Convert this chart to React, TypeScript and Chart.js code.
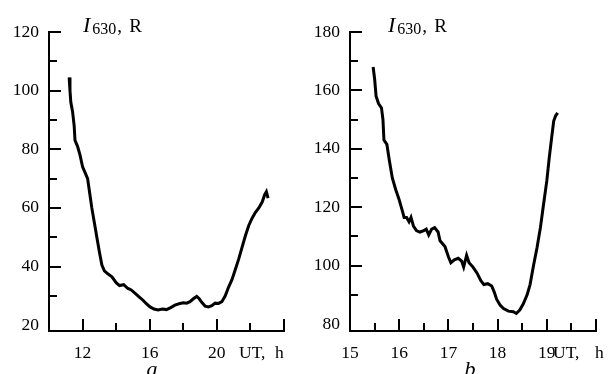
import React, { useEffect, useRef } from 'react';
import { Chart, registerables } from 'chart.js';

Chart.register(...registerables);

// ---------- Panel a ----------
const hoursA = [
  11.2, 11.25, 11.3, 11.4, 11.5, 11.55, 11.7, 11.85, 12.0, 12.15, 12.3, 12.4, 12.55, 12.7, 12.85,
  13.0, 13.15, 13.3, 13.5, 13.75, 14.0, 14.2, 14.45, 14.7, 14.9, 15.2, 15.4, 15.6, 15.8, 16.0,
  16.25, 16.5, 16.75, 17.0, 17.25, 17.5, 17.75, 18.0, 18.2, 18.4, 18.6, 18.8, 18.95, 19.1, 19.3,
  19.5, 19.7, 19.9, 20.1, 20.3, 20.5, 20.7, 20.9, 21.1, 21.3, 21.5, 21.7, 21.9, 22.1, 22.3,
  22.5, 22.7, 22.85, 22.95, 23.05,
];
const intensityA = [
  104.5, 100, 96, 93, 88, 83, 81, 78, 74, 72, 70, 66, 60, 55, 50,
  45, 40.5, 38.5, 37.5, 36.5, 34.5, 33.5, 33.8, 32.5, 32, 30.5, 29.5, 28.5, 27.3, 26.3,
  25.5, 25.2, 25.5, 25.3, 26, 26.8, 27.3, 27.6, 27.5, 28, 29, 29.8, 29, 27.8, 26.5,
  26.2, 26.6, 27.5, 27.4, 28, 30, 33, 35.5, 39, 42.5, 46.5, 50.5, 54, 56.5, 58.5,
  60, 62, 64.5, 65.5, 63.3,
];
const xRangeA = [10, 24];
const yRangeA = [18, 120];
const xMajorA = [12, 16, 20, 24];
const xMinorA = [14, 18, 22];
const xLabelsA = [12, 16, 20];
const yMajorA = [40, 60, 80, 100, 120];
const yMinorA = [30, 50, 70, 90, 110];
const yLabelsA = [20, 40, 60, 80, 100, 120];

// ---------- Panel b ----------
const hoursB = [
  15.47, 15.5, 15.53, 15.58, 15.64, 15.67, 15.69, 15.75, 15.8, 15.86, 15.93, 16.0, 16.06, 16.1,
  16.15, 16.2, 16.24, 16.29, 16.35, 16.42, 16.5, 16.55, 16.6, 16.66, 16.72, 16.79, 16.83, 16.93,
  17.0, 17.05, 17.12, 17.2, 17.27, 17.31, 17.37, 17.42, 17.5, 17.58, 17.66, 17.72, 17.8, 17.88,
  17.93, 17.98, 18.05, 18.12, 18.22, 18.32, 18.38, 18.45, 18.52, 18.6, 18.66, 18.73, 18.8, 18.87,
  18.93, 19.0, 19.05, 19.1, 19.14, 19.18, 19.22,
];
const intensityB = [
  168, 164, 158, 155.5, 154, 150, 143, 141.5, 136, 130, 126, 122.5, 119, 116.5,
  116.5, 115, 116.5, 113.5, 112, 111.5, 112, 112.5, 110.5, 112.5, 113, 111.5, 108.5, 106.5,
  103, 101, 102, 102.5, 101.5, 99.5, 103.5, 101, 99.5, 97.5, 94.8, 93.5, 93.8, 93,
  91, 88.5, 86.5, 85.3, 84.4, 84.2, 83.6, 84.8, 86.8, 90, 93.5, 100, 106, 113,
  120.5, 129, 137, 144, 149.5, 151.3, 152.3,
];
const xRangeB = [15, 20];
const yRangeB = [77.6, 180];
const xMajorB = [16, 17, 18, 19, 20];
const xMinorB = [15.5, 16.5, 17.5, 18.5, 19.5];
const xLabelsB = [15, 16, 17, 18, 19];
const yMajorB = [100, 120, 140, 160, 180];
const yMinorB = [90, 110, 130, 150, 170];
const yLabelsB = [80, 100, 120, 140, 160, 180];

const SERIF = "'Liberation Serif', 'DejaVu Serif', serif";

const decorPlugin = {
  id: 'decor',
  afterDraw(chart: any, _args: any, opts: any) {
    const { ctx, chartArea } = chart;
    const xs = chart.scales.x;
    const ys = chart.scales.y;
    ctx.save();
    ctx.strokeStyle = '#000';
    ctx.lineWidth = 2;
    ctx.beginPath();
    const bottom = chartArea.bottom;
    const left = chartArea.left;
    const tick = (vals: number[], len: number, horiz: boolean) => {
      for (const v of vals) {
        if (horiz) {
          const px = Math.round(xs.getPixelForValue(v));
          ctx.moveTo(px, bottom);
          ctx.lineTo(px, bottom - len);
        } else {
          const py = Math.round(ys.getPixelForValue(v));
          ctx.moveTo(left, py);
          ctx.lineTo(left + len, py);
        }
      }
    };
    tick(opts.xMajor, 12, true);
    tick(opts.xMinor, 8, true);
    tick(opts.yMajor, 12, false);
    tick(opts.yMinor, 8, false);
    ctx.stroke();

    ctx.fillStyle = '#000';
    ctx.textBaseline = 'alphabetic';
    ctx.textAlign = 'left';
    // title I_630, R
    let tx = left + opts.titleDx;
    const ty = 32;
    ctx.font = `italic 22px ${SERIF}`;
    ctx.fillText('I', tx, ty);
    tx += ctx.measureText('I').width + 2;
    ctx.font = `16px ${SERIF}`;
    ctx.fillText('630', tx, ty + 2);
    tx += ctx.measureText('630').width + 1;
    ctx.font = `19px ${SERIF}`;
    ctx.fillText(',', tx, ty);
    ctx.fillText('R', tx + 12, ty);

    // axis unit label
    ctx.font = `17.5px ${SERIF}`;
    ctx.textBaseline = 'middle';
    const uy = bottom + 22;
    const ux = left + opts.unitDx;
    ctx.fillText('UT,', ux, uy);
    ctx.fillText('h', ux + opts.hDx, uy);

    // panel letter
    ctx.font = `italic 22px ${SERIF}`;
    ctx.textAlign = 'center';
    ctx.textBaseline = 'alphabetic';
    ctx.fillText(opts.letter, left + opts.letterDx, 376);
    ctx.restore();
  },
};

function makeConfig(p: any) {
  return {
    type: 'line',
    data: {
      datasets: [
        {
          data: p.hours.map((h: number, i: number) => ({ x: h, y: p.values[i] })),
          borderColor: '#000',
          borderWidth: 3,
          pointRadius: 0,
          tension: 0,
          fill: false,
        },
      ],
    },
    plugins: [decorPlugin],
    options: {
      responsive: false,
      animation: false,
      devicePixelRatio: 1,
      layout: { padding: { left: 0, right: p.padRight, top: 32, bottom: 0 } },
      plugins: {
        legend: { display: false },
        tooltip: { enabled: false },
        decor: p.decor,
      },
      scales: {
        x: {
          type: 'linear',
          min: p.xRange[0],
          max: p.xRange[1],
          afterBuildTicks: (scale: any) => {
            const vals = [p.xRange[0], ...p.xMinor, ...p.xMajor, ...p.xLabels]
              .filter((v: number, i: number, a: number[]) => a.indexOf(v) === i)
              .sort((a: number, b: number) => a - b);
            scale.ticks = vals.map((value: number) => ({ value }));
          },
          afterFit: (scale: any) => {
            scale.height = 43;
          },
          grid: { display: false, drawTicks: false },
          border: { display: true, color: '#000', width: 2 },
          ticks: {
            autoSkip: false,
            maxRotation: 0,
            padding: 12,
            color: '#000',
            font: { family: SERIF, size: 17.5 },
            callback: (v: number) => (p.xLabels.includes(v) ? String(v) : ''),
          },
        },
        y: {
          type: 'linear',
          min: p.yRange[0],
          max: p.yRange[1],
          afterBuildTicks: (scale: any) => {
            const vals = [...p.yLabels, ...p.yMinor]
              .filter((v: number, i: number, a: number[]) => a.indexOf(v) === i)
              .sort((a: number, b: number) => a - b);
            scale.ticks = vals.map((value: number) => ({ value }));
          },
          afterFit: (scale: any) => {
            scale.width = p.yWidth;
          },
          grid: { display: false, drawTicks: false },
          border: { display: true, color: '#000', width: 2 },
          ticks: {
            autoSkip: false,
            padding: 10,
            color: '#000',
            font: { family: SERIF, size: 17.5 },
            callback: (v: number) => (p.yLabels.includes(v) ? String(v) : ''),
          },
        },
      },
    },
  };
}

export default function App() {
  const refA = useRef<HTMLCanvasElement>(null);
  const refB = useRef<HTMLCanvasElement>(null);

  useEffect(() => {
    const chartA = new Chart(
      refA.current as HTMLCanvasElement,
      makeConfig({
        hours: hoursA,
        values: intensityA,
        xRange: xRangeA,
        yRange: yRangeA,
        xMajor: xMajorA,
        xMinor: xMinorA,
        xLabels: xLabelsA,
        yMinor: yMinorA,
        yLabels: yLabelsA,
        padRight: 21,
        yWidth: 49,
        decor: {
          xMajor: xMajorA,
          xMinor: xMinorA,
          yMajor: yMajorA,
          yMinor: yMinorA,
          titleDx: 34,
          unitDx: 190,
          hDx: 36,
          letter: 'a',
          letterDx: 103,
        },
      }) as any
    );
    const chartB = new Chart(
      refB.current as HTMLCanvasElement,
      makeConfig({
        hours: hoursB,
        values: intensityB,
        xRange: xRangeB,
        yRange: yRangeB,
        xMajor: xMajorB,
        xMinor: xMinorB,
        xLabels: xLabelsB,
        yMinor: yMinorB,
        yLabels: yLabelsB,
        padRight: 13,
        yWidth: 45,
        decor: {
          xMajor: xMajorB,
          xMinor: xMinorB,
          yMajor: yMajorB,
          yMinor: yMinorB,
          titleDx: 38,
          unitDx: 203,
          hDx: 42,
          letter: 'b',
          letterDx: 120,
        },
      }) as any
    );
    return () => {
      chartA.destroy();
      chartB.destroy();
    };
  }, []);

  return (
    <div
      style={{
        position: 'fixed',
        left: 0,
        top: 0,
        width: 609,
        height: 374,
        background: '#fff',
        overflow: 'hidden',
      }}
    >
      <canvas
        ref={refA}
        width={305}
        height={374}
        style={{ position: 'absolute', left: 0, top: 0, width: 305, height: 374 }}
      />
      <canvas
        ref={refB}
        width={304}
        height={374}
        style={{ position: 'absolute', left: 305, top: 0, width: 304, height: 374 }}
      />
    </div>
  );
}
